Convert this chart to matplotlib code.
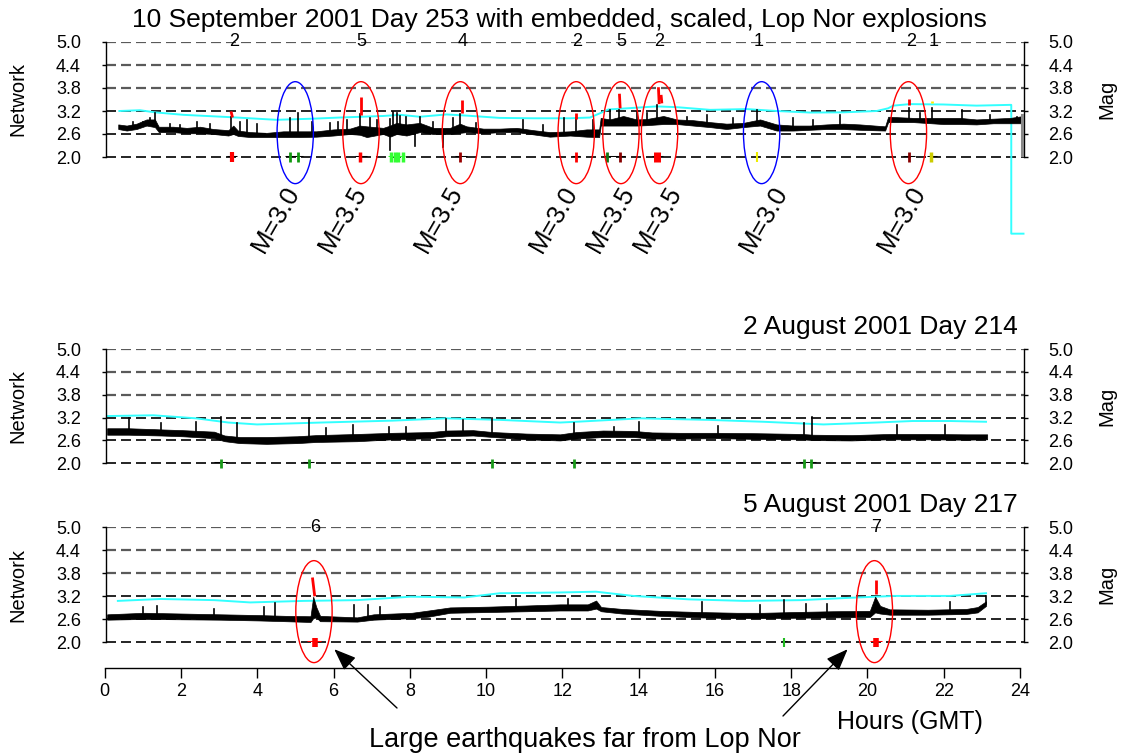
import numpy as np
import matplotlib
matplotlib.use("Agg")
import matplotlib.pyplot as plt
from matplotlib.patches import Ellipse

plt.rcParams['font.family'] = ['Liberation Sans', 'DejaVu Sans']

# ---------------------------------------------------------------- data
YTICKS = [2.0, 2.6, 3.2, 3.8, 4.4, 5.0]
XTICKS = list(range(0, 25, 2))

# Day 253 (10 September 2001): network magnitude band (lower / upper edge)
top_t = [0.32, 0.54, 0.80, 1.06, 1.28, 1.38, 1.76, 2.11, 2.46, 2.81, 3.20, 3.33, 3.45,
         3.77, 4.20, 4.64, 5.07, 5.50, 5.95, 6.38, 6.64, 6.82, 7.25, 7.43, 7.60, 7.86,
         8.21, 8.56, 9.00, 9.26, 9.43, 9.87, 10.30, 10.74, 11.18, 11.61, 12.14, 12.57,
         12.90, 12.94, 13.18, 13.53, 13.88, 14.14, 14.58, 14.93, 15.36, 15.80, 16.23,
         16.67, 17.11, 17.54, 17.98, 18.41, 18.85, 19.29, 19.72, 20.38, 20.46, 21.12,
         21.90, 22.34, 22.77, 23.21, 23.65, 24.00]
top_lo = [2.73, 2.69, 2.73, 2.82, 2.78, 2.65, 2.65, 2.62, 2.62, 2.60, 2.56, 2.60, 2.55,
          2.52, 2.52, 2.52, 2.52, 2.53, 2.56, 2.60, 2.58, 2.52, 2.60, 2.53, 2.60, 2.56,
          2.65, 2.60, 2.60, 2.63, 2.65, 2.62, 2.65, 2.65, 2.59, 2.53, 2.56, 2.53,
          2.52, 2.82, 2.82, 2.82, 2.82, 2.83, 2.86, 2.86, 2.82, 2.78, 2.73,
          2.78, 2.82, 2.69, 2.69, 2.71, 2.73, 2.73, 2.71, 2.69, 2.91, 2.91,
          2.86, 2.86, 2.85, 2.88, 2.88, 2.88]
top_hi = [2.85, 2.82, 2.87, 2.98, 2.98, 2.79, 2.79, 2.76, 2.79, 2.73, 2.70, 2.82, 2.69,
          2.65, 2.63, 2.67, 2.67, 2.67, 2.72, 2.74, 2.82, 2.80, 2.76, 2.82, 2.89, 2.85,
          2.89, 2.76, 2.76, 2.87, 2.80, 2.74, 2.74, 2.76, 2.70, 2.65, 2.67, 2.72,
          2.72, 3.02, 2.98, 3.07, 2.98, 2.99, 3.07, 2.98, 2.96, 2.91, 2.87,
          2.89, 2.98, 2.85, 2.82, 2.82, 2.85, 2.87, 2.85, 2.80, 3.05, 3.02,
          3.02, 3.02, 2.98, 3.00, 3.02, 3.07]
# short spikes: (hour, base, peak)
top_spikes = [(0.71, 2.79, 2.90), (0.98, 2.80, 2.92), (1.15, 2.88, 3.01), (1.28, 2.88, 3.14),
              (1.67, 2.72, 2.85), (1.93, 2.72, 2.83), (2.37, 2.70, 2.92), (2.72, 2.67, 2.85),
              (3.28, 2.70, 3.05), (3.50, 2.62, 2.90), (3.68, 2.60, 2.96), (3.94, 2.59, 2.85),
              (4.81, 2.60, 3.03), (5.03, 2.60, 3.16), (5.38, 2.60, 2.92), (5.86, 2.63, 2.88),
              (6.08, 2.65, 2.92), (6.30, 2.67, 2.96), (6.65, 2.70, 3.11), (6.90, 2.66, 3.01),
              (7.08, 2.67, 2.96), (7.43, 2.68, 2.18), (7.43, 2.68, 3.00), (7.52, 2.72, 3.18),
              (7.62, 2.74, 3.14), (7.70, 2.72, 3.08), (7.86, 2.71, 3.05), (8.08, 2.70, 2.29),
              (8.21, 2.77, 3.05), (8.56, 2.68, 2.92), (8.82, 2.68, 2.27), (9.08, 2.68, 3.01),
              (9.27, 2.75, 3.11), (9.69, 2.70, 2.88), (10.92, 2.70, 2.96), (11.44, 2.64, 2.83),
              (11.99, 2.62, 3.01), (12.29, 2.62, 3.01), (12.75, 2.62, 2.96), (13.18, 2.90, 3.23),
              (13.43, 2.92, 3.23), (13.88, 2.90, 3.18), (14.14, 2.91, 3.14), (14.40, 2.93, 3.36),
              (15.19, 2.90, 3.05), (15.71, 2.87, 3.10), (16.41, 2.82, 3.01), (17.02, 2.85, 3.23),
              (17.98, 2.76, 3.01), (18.50, 2.77, 2.96), (19.20, 2.79, 3.10), (21.01, 2.96, 3.29),
              (21.29, 2.96, 3.14), (21.60, 2.96, 3.29), (22.38, 2.94, 3.22), (23.12, 2.94, 3.10),
              (23.82, 2.95, 3.05)]
# embedded explosion signals: (t0, v0, t1, v1)
top_red = [(3.27, 3.19, 3.31, 3.03), (6.67, 3.57, 6.67, 3.10), (9.30, 3.48, 9.30, 3.16),
           (12.30, 3.14, 12.30, 2.98), (13.43, 3.65, 13.45, 3.27), (14.45, 3.82, 14.47, 3.38),
           (14.52, 3.62, 14.54, 3.40), (21.00, 3.52, 21.00, 3.36)]
top_yellow = [(21.60, 3.47, 21.60, 3.42)]
top_cyan_t = [0.35, 0.89, 1.28, 2.02, 3.24, 4.46, 5.42, 6.12, 7.25, 7.69, 8.21, 8.91, 9.43,
              10.30, 11.18, 12.14, 12.66, 12.92, 13.14, 13.62, 14.40, 14.93, 15.80, 16.76,
              17.54, 18.41, 19.29, 20.16, 20.46, 20.59, 21.03, 21.90, 22.77, 23.65, 23.68,
              23.68, 24.00]
top_cyan_v = [3.20, 3.22, 3.165, 3.10, 3.04, 2.97, 3.00, 3.03, 3.07, 3.10, 3.05, 3.11, 3.08,
              3.02, 3.01, 3.01, 3.03, 3.14, 3.24, 3.27, 3.32, 3.30, 3.23, 3.25,
              3.20, 3.16, 3.165, 3.20, 3.27, 3.34, 3.38, 3.37, 3.34, 3.36, 3.36,
              0.0, 0.0]
top_event_t = [3.29, 4.81, 5.03, 6.64, 7.45, 7.56, 7.65, 7.76, 9.26, 12.29, 13.10, 13.45,
               14.40, 17.02, 21.00, 21.58]
top_event_c = ['red', '#119911', '#119911', 'red', '#33ff33', '#33ff33', '#33ff33', '#33ff33',
               '#990000', 'red', '#117711', '#880000', 'red', '#eeee00', '#880000', '#cccc00']
top_event_w = [3.0, 2.0, 2.0, 2.5, 2.5, 2.5, 2.5, 2.5, 2.0, 2.0, 2.0, 2.0, 5.0, 1.5, 2.0, 2.5]
top_arms = [(3.16, 3.42, 'black'), (4.68, 5.16, 'black'), (6.51, 6.82, 'black'),
            (7.38, 7.82, '#33ff33'), (9.13, 9.43, 'black'), (12.18, 12.40, 'black'),
            (13.01, 13.58, 'black'), (14.27, 14.58, 'black'), (20.86, 21.16, 'black'),
            (21.47, 21.73, 'black')]
top_counts = ['2', '5', '4', '2', '5', '2', '1', '2', '1']
top_count_t = [3.34, 6.68, 9.32, 12.33, 13.49, 14.47, 17.06, 21.06, 21.65]
top_ring_t = [4.95, 6.67, 9.27, 12.30, 13.47, 14.48, 17.15, 20.99]
top_ring_c = ['blue', 'red', 'red', 'red', 'red', 'red', 'blue', 'red']
top_mag_lbl = ['M=3.0', 'M=3.5', 'M=3.5', 'M=3.0', 'M=3.5', 'M=3.5', 'M=3.0', 'M=3.0']
top_mag_t = [5.07, 6.82, 9.35, 12.35, 13.84, 15.06, 17.84, 21.46]

# Day 214 (2 August 2001)
mid_t = [0.03, 0.59, 1.43, 2.00, 2.83, 3.10, 3.50, 4.20, 5.00, 5.50, 6.57, 7.50, 8.50, 8.90,
         9.60, 10.12, 11.00, 11.88, 12.30, 13.00, 13.80, 14.28, 15.00, 16.00, 17.00, 18.20,
         18.50, 19.50, 20.50, 21.50, 22.50, 23.05]
mid_lo = [2.75, 2.75, 2.73, 2.71, 2.66, 2.58, 2.53, 2.51, 2.53, 2.56, 2.58, 2.63, 2.66, 2.71,
          2.73, 2.69, 2.63, 2.60, 2.65, 2.69, 2.69, 2.65, 2.65, 2.66, 2.64, 2.63,
          2.61, 2.60, 2.63, 2.63, 2.62, 2.63]
mid_hi = [2.92, 2.92, 2.89, 2.87, 2.83, 2.73, 2.69, 2.69, 2.71, 2.74, 2.77, 2.80, 2.82, 2.86,
          2.87, 2.82, 2.78, 2.76, 2.82, 2.86, 2.85, 2.81, 2.80, 2.80, 2.79, 2.77,
          2.75, 2.74, 2.77, 2.77, 2.76, 2.76]
mid_spikes = [(0.59, 2.84, 3.18), (1.43, 2.81, 3.05), (2.35, 2.77, 3.09), (3.00, 2.70, 3.21),
              (3.42, 2.62, 3.05), (5.30, 2.64, 3.18), (5.75, 2.65, 2.92), (6.45, 2.67, 3.00),
              (7.40, 2.71, 2.96), (7.85, 2.72, 2.96), (8.90, 2.78, 3.16), (9.35, 2.80, 3.14),
              (10.10, 2.76, 3.20), (12.25, 2.72, 3.05), (13.30, 2.77, 2.96), (13.94, 2.77, 3.09),
              (16.00, 2.73, 2.98), (18.25, 2.70, 3.05), (18.46, 2.68, 3.21), (20.70, 2.70, 3.00),
              (21.95, 2.70, 3.00)]
mid_cyan_t = [0.03, 1.24, 2.36, 3.20, 3.95, 5.63, 7.50, 8.90, 10.30, 11.88, 12.30, 13.99, 15.75,
              17.20, 18.77, 20.14, 21.10, 22.08, 23.02]
mid_cyan_v = [3.24, 3.26, 3.18, 3.07, 3.02, 3.07, 3.12, 3.18, 3.14, 3.07, 3.09, 3.18, 3.14,
              3.09, 3.02, 3.07, 3.11, 3.11, 3.09]
mid_event_t = [3.00, 5.30, 10.10, 12.25, 18.25, 18.45]
mid_event_c = ['#1a9a1a'] * 6
mid_event_w = [2.0] * 6
mid_arms = [(2.83, 3.16, 'black'), (5.15, 5.45, 'black'), (9.98, 10.26, 'black'),
            (12.13, 12.42, 'black'), (18.13, 18.57, 'black')]

# Day 217 (5 August 2001)
bot_t = [0.03, 1.00, 2.00, 3.00, 4.00, 4.70, 5.35, 5.42, 5.50, 5.60, 6.57, 7.00, 8.00, 8.44,
         9.00, 10.00, 11.00, 11.88, 12.60, 12.82, 12.95, 13.50, 14.50, 15.50, 16.50, 17.20,
         18.00, 19.00, 19.98, 20.12, 20.25, 20.50, 21.50, 22.50, 22.80, 23.02]
bot_lo = [2.59, 2.61, 2.60, 2.59, 2.57, 2.55, 2.53, 2.63, 2.65, 2.55, 2.54, 2.59, 2.63, 2.67,
          2.77, 2.79, 2.81, 2.83, 2.83, 2.88, 2.81, 2.75, 2.69, 2.65, 2.63, 2.63,
          2.64, 2.65, 2.66, 2.78, 2.75, 2.72, 2.72, 2.74, 2.78, 2.95]
bot_hi = [2.73, 2.77, 2.75, 2.73, 2.71, 2.69, 2.68, 3.19, 2.92, 2.69, 2.65, 2.73, 2.77, 2.83,
          2.91, 2.93, 2.96, 2.99, 2.99, 3.09, 2.92, 2.87, 2.82, 2.79, 2.77, 2.77,
          2.79, 2.81, 2.82, 3.19, 2.95, 2.86, 2.85, 2.87, 2.92, 3.07]
bot_spikes = [(0.96, 2.68, 2.93), (1.34, 2.69, 2.95), (2.83, 2.67, 2.86), (4.14, 2.64, 2.93),
              (4.42, 2.63, 3.02), (6.48, 2.60, 2.97), (6.85, 2.64, 2.97), (7.18, 2.67, 2.93),
              (10.72, 2.87, 3.12), (12.08, 2.91, 3.12), (15.60, 2.72, 3.04), (17.10, 2.70, 2.97),
              (17.74, 2.71, 3.10), (18.30, 2.72, 3.00), (18.86, 2.73, 3.00), (22.08, 2.79, 3.04),
              (23.02, 3.00, 3.21)]
bot_red = [(5.40, 3.69, 5.46, 3.20), (20.14, 3.63, 20.14, 3.26)]
bot_cyan_t = [0.31, 1.43, 2.83, 3.77, 5.17, 6.57, 7.97, 9.37, 10.30, 11.88, 12.82, 13.79, 15.25,
              16.71, 18.18, 19.65, 20.63, 22.08, 23.02]
bot_cyan_v = [3.08, 3.13, 3.10, 3.04, 3.08, 3.10, 3.19, 3.17, 3.28, 3.30, 3.32, 3.21, 3.12,
              3.08, 3.10, 3.17, 3.21, 3.21, 3.28]
bot_event_t = [5.48, 17.74, 20.14]
bot_event_c = ['red', '#22bb22', 'red']
bot_event_w = [4.0, 1.5, 4.0]
bot_arms = [(5.26, 5.63, 'red'), (17.68, 17.81, 'black'), (19.98, 20.31, 'red')]
bot_counts = ['6', '7']
bot_count_t = [5.46, 20.14]
bot_ring_t = [5.44, 20.10]

# ---------------------------------------------------------------- figure
W, H = 1125, 755
fig = plt.figure(figsize=(W / 100, H / 100), dpi=100)


def fx(px):
    return px / W


def fy(py):
    return 1 - py / H


PX_PER_PT = 100 / 72.0


def dashed(lw):
    return (0, (10 / PX_PER_PT / lw, 5 / PX_PER_PT / lw))


def panel(top_px, bot_px):
    ax = fig.add_axes([fx(106), fy(bot_px), (1023.5 - 106) / W, (bot_px - top_px) / H])
    ax.set_xlim(0, 24)
    ax.set_ylim(2, 5)
    for s in ('top', 'bottom'):
        ax.spines[s].set_visible(False)
    for s in ('left', 'right'):
        ax.spines[s].set_linewidth(1.0)
    ax.set_xticks([])
    ax.set_yticks(YTICKS)
    ax.set_yticklabels(['%.1f' % v for v in YTICKS])
    ax.tick_params(axis='y', left=True, right=True, labelleft=True, labelright=True,
                   direction='out', length=3, width=1, pad=15, labelsize=13)
    for y in YTICKS:
        if y >= 3.8:
            ax.axhline(y, color='#5a5a5a', lw=1.6, ls=dashed(1.6), zorder=1)
        else:
            ax.axhline(y, color='black', lw=1.2, ls=dashed(1.2), zorder=1, clip_on=False)
    fig.text(fx(17.5), fy((top_px + bot_px) / 2), 'Network', rotation=90,
             ha='center', va='center', fontsize=14.5)
    fig.text(fx(1106.5), fy((top_px + bot_px) / 2), 'Mag', rotation=90,
             ha='center', va='center', fontsize=14.5)
    return ax


def trace(ax, t, lo, hi, spikes, cyan_t, cyan_v, clip_cyan=True):
    ax.plot(cyan_t, cyan_v, color='#33ffff', lw=1.4, zorder=2, clip_on=clip_cyan)
    ax.fill_between(t, lo, hi, color='black', lw=0.5, zorder=3)
    for tt, b, p in spikes:
        ax.plot([tt, tt], [b, p], color='black', lw=1.2, zorder=3)


def segments(ax, segs, color, lw):
    for t0, v0, t1, v1 in segs:
        ax.plot([t0, t1], [v0, v1], color=color, lw=lw, zorder=4, solid_capstyle='butt')


def events(ax, times, colors, widths, arms):
    for t0, t1, c in arms:
        ax.plot([t0, t1], [2.0, 2.0], color=c, lw=2.2, zorder=5, solid_capstyle='butt')
    for t, c, w in zip(times, colors, widths):
        ax.plot([t, t], [1.88, 2.12], color=c, lw=w, zorder=6, solid_capstyle='butt',
                clip_on=False)


def rings(ax, times, colors, yc):
    for t, c in zip(times, colors):
        ax.add_patch(Ellipse((t, yc), 0.95, 2.66, fill=False, ec=c, lw=1.0,
                             clip_on=False, zorder=7))


def counts(ax, labels, times):
    for s, t in zip(labels, times):
        ax.text(t, 5.0, s, ha='center', va='center', fontsize=13, clip_on=False, zorder=8)


# top panel
ax1 = panel(42, 157)
trace(ax1, top_t, top_lo, top_hi, top_spikes, top_cyan_t, top_cyan_v, clip_cyan=False)
ax1.plot([23.96, 23.96], [2.0, 3.1], color='#888888', lw=2.2, zorder=3)
segments(ax1, top_red, 'red', 2.0)
segments(ax1, top_yellow, '#ffee00', 2.0)
events(ax1, top_event_t, top_event_c, top_event_w, top_arms)
rings(ax1, top_ring_t, top_ring_c, 2.635)
counts(ax1, top_counts, top_count_t)
for s, t in zip(top_mag_lbl, top_mag_t):
    ax1.text(t, 1.11, s, rotation=60, rotation_mode='anchor', ha='right', va='baseline',
             fontsize=18.5, clip_on=False)
fig.text(fx(559), fy(27), '10 September 2001 Day 253 with embedded, scaled, Lop Nor explosions',
         ha='center', va='baseline', fontsize=19)

# middle panel
ax2 = panel(349, 463.3)
trace(ax2, mid_t, mid_lo, mid_hi, mid_spikes, mid_cyan_t, mid_cyan_v)
events(ax2, mid_event_t, mid_event_c, mid_event_w, mid_arms)
fig.text(fx(1018), fy(334), '2 August 2001 Day 214', ha='right', va='baseline', fontsize=19)

# bottom panel
ax3 = panel(527.3, 642.3)
trace(ax3, bot_t, bot_lo, bot_hi, bot_spikes, bot_cyan_t, bot_cyan_v)
segments(ax3, bot_red, 'red', 2.0)
events(ax3, bot_event_t, bot_event_c, bot_event_w, bot_arms)
rings(ax3, bot_ring_t, ['red', 'red'], 2.80)
counts(ax3, bot_counts, bot_count_t)
fig.text(fx(1018), fy(512), '5 August 2001 Day 217', ha='right', va='baseline', fontsize=19)

arrow = dict(arrowstyle='-|>,head_length=0.9,head_width=0.35', color='black', lw=1.0,
             shrinkA=0, shrinkB=0, mutation_scale=15)
ax3.annotate('', xy=(5.97, 1.82), xycoords='data', xytext=(397, H - 708),
             textcoords='figure pixels', arrowprops=arrow, annotation_clip=False)
ax3.annotate('', xy=(19.40, 1.82), xycoords='data', xytext=(783, H - 716),
             textcoords='figure pixels', arrowprops=arrow, annotation_clip=False)

# shared hour axis
axx = fig.add_axes([fx(104.7), fy(668), (1020 - 104.7) / W, 0.0001])
axx.set_xlim(0, 24)
axx.set_ylim(0, 1)
for s in ('top', 'left', 'right'):
    axx.spines[s].set_visible(False)
axx.spines['bottom'].set_linewidth(1.0)
axx.patch.set_alpha(0)
axx.set_yticks([])
axx.set_xticks(XTICKS)
axx.set_xticklabels([str(v) for v in XTICKS])
axx.tick_params(axis='x', direction='out', length=7, width=1, pad=4, labelsize=13)

fig.text(fx(910), fy(722), 'Hours (GMT)', ha='center', va='center', fontsize=18)
fig.text(fx(585), fy(740), 'Large earthquakes far from Lop Nor', ha='center', va='center',
         fontsize=19.5)

fig.savefig('out.png', dpi=100)
